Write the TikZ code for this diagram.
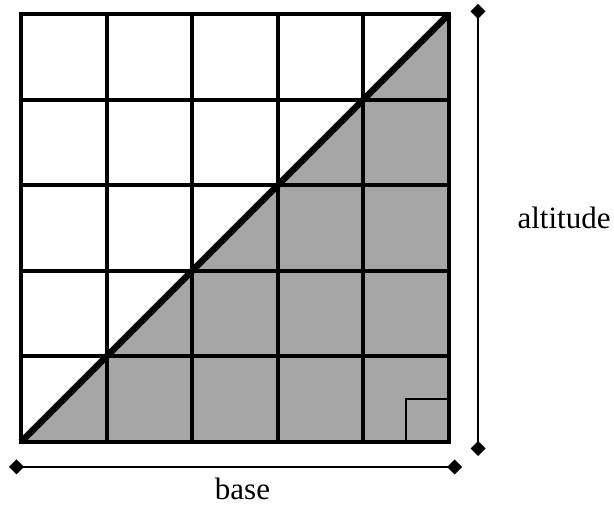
\documentclass[tikz,border=0pt]{standalone}
\usepackage{fontspec}
\setmainfont{Liberation Serif}
\usetikzlibrary{arrows.meta}
\definecolor{trigray}{HTML}{A6A6A6}
\tikzset{
  gridline/.style={line width=4pt, black},
  diag/.style={line width=6.5pt, black},
  dimline/.style={line width=2.4pt, black, {Diamond[length=15pt,width=15pt]}-{Diamond[length=15pt,width=15pt]}},
  lbl/.style={font=\fontsize{31}{36}\selectfont, anchor=base, inner sep=0pt},
  rightmark/.style={line width=2.4pt, black}
}
\begin{document}
\begin{tikzpicture}[x=1pt,y=-1pt]
\useasboundingbox (0,0) rectangle (614,510);
\coordinate (A) at (21,442);
\coordinate (B) at (449,442);
\coordinate (C) at (449,14);
\coordinate (D) at (21,14);
\fill[trigray] (A) -- (B) -- (C) -- cycle;
\foreach \i in {1,2,3,4} {
  \draw[gridline] (21+85.6*\i,14) -- (21+85.6*\i,442);
  \draw[gridline] (21,14+85.6*\i) -- (449,14+85.6*\i);
}
\draw[rightmark] (449,399.2) -- (406.2,399.2) -- (406.2,442);
\draw[gridline, line width=4.5pt, line cap=rect] (A) rectangle (C);
\draw[diag] (A) -- (C);
\coordinate (vt) at (478,4);
\coordinate (vb) at (478,456);
\coordinate (hl) at (9,467);
\coordinate (hr) at (462,467);
\draw[dimline] (vt) -- (vb);
\draw[dimline] (hl) -- (hr);
\node[lbl] (alt) at (564,229) {altitude};
\node[lbl] (base) at (242.5,500) {base};
\end{tikzpicture}
\end{document}
